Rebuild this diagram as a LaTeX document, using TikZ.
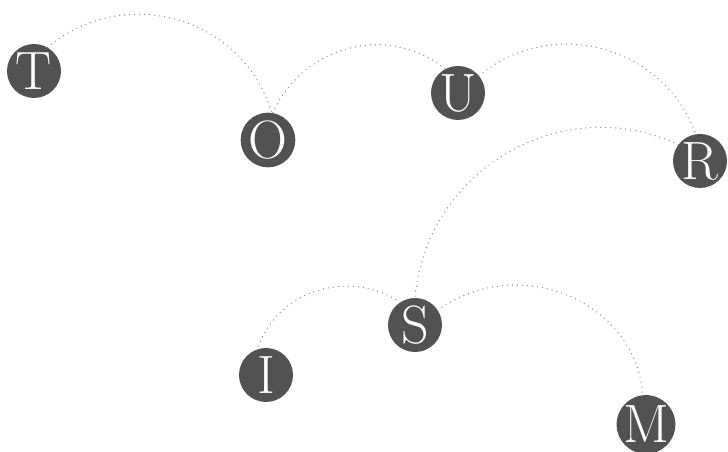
\documentclass[tikz,border=0pt]{standalone}
\begin{document}
\begin{tikzpicture}[x=1pt,y=1pt,
  letter/.style={circle,fill=ballgray,minimum size=54pt,inner sep=0pt,text=white,
    font=\fontsize{54}{54}\selectfont},
  link/.style={draw=dotgray,line width=1.4pt,line cap=round,dash pattern=on 0pt off 5pt}]
\definecolor{ballgray}{HTML}{525252}
\definecolor{dotgray}{HTML}{8E8E8E}
\useasboundingbox (0,0) rectangle (728,452);
\node[letter] (T) at (34,381) {T};
\node[letter] (O) at (268,312) {O};
\node[letter] (U) at (458,359) {U};
\node[letter] (R) at (700,291) {R};
\node[letter] (S) at (415,127) {S};
\node[letter] (I) at (266,77) {I};
\node[letter] (M) at (646,27.5) {M};
\draw[link] (T.60) to[out=40,in=107,looseness=1.1] (O.82);
\draw[link] (O.80) to[out=66,in=141,looseness=1.06] (U.118);
\draw[link] (U.39) to[out=40,in=110,looseness=1.08] (R.99);
\draw[link] (R.143) to[out=155,in=85,looseness=1.08] (S.90);
\draw[link] (S.123) to[out=147,in=72,looseness=1.06] (I.108);
\draw[link] (S.33) to[out=36,in=95,looseness=1.12] (M.96);
\end{tikzpicture}
\end{document}
